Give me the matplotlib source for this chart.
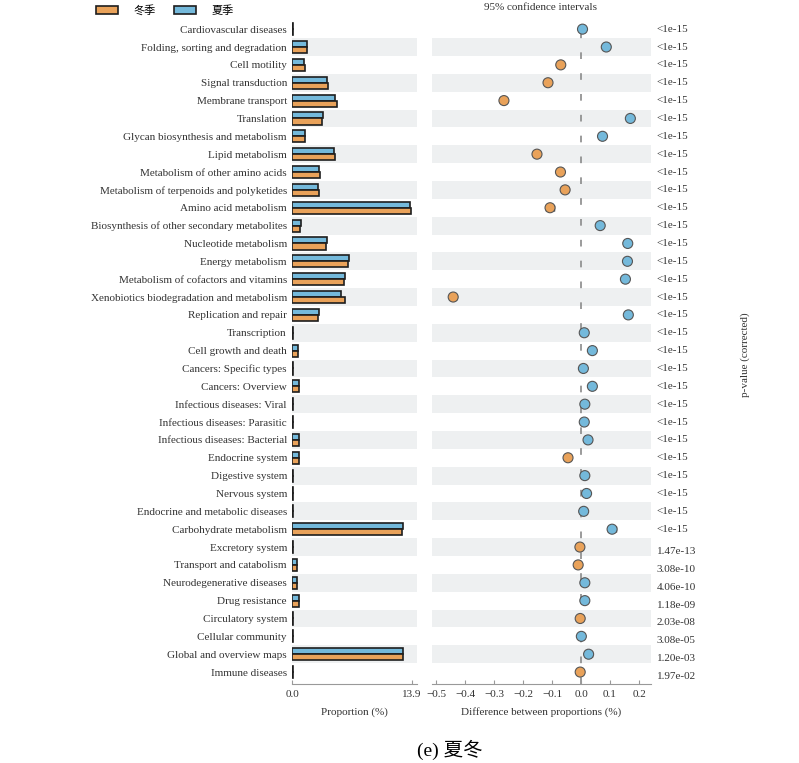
import matplotlib
matplotlib.use("Agg")
import matplotlib.pyplot as plt
from matplotlib.patches import Patch
import matplotlib.transforms as mtransforms
import numpy as np

plt.rcParams['font.family'] = ['Liberation Serif', 'Noto Sans CJK SC', 'DejaVu Sans']

categories = [
    'Cardiovascular diseases', 'Folding, sorting and degradation', 'Cell motility',
    'Signal transduction', 'Membrane transport', 'Translation',
    'Glycan biosynthesis and metabolism', 'Lipid metabolism',
    'Metabolism of other amino acids', 'Metabolism of terpenoids and polyketides',
    'Amino acid metabolism', 'Biosynthesis of other secondary metabolites',
    'Nucleotide metabolism', 'Energy metabolism', 'Metabolism of cofactors and vitamins',
    'Xenobiotics biodegradation and metabolism', 'Replication and repair',
    'Transcription', 'Cell growth and death', 'Cancers: Specific types',
    'Cancers: Overview', 'Infectious diseases: Viral', 'Infectious diseases: Parasitic',
    'Infectious diseases: Bacterial', 'Endocrine system', 'Digestive system',
    'Nervous system', 'Endocrine and metabolic diseases', 'Carbohydrate metabolism',
    'Excretory system', 'Transport and catabolism', 'Neurodegenerative diseases',
    'Drug resistance', 'Circulatory system', 'Cellular community',
    'Global and overview maps', 'Immune diseases',
]

# 夏季 (summer) and 冬季 (winter) proportions, %
summer = [0.05, 1.71, 1.36, 4.00, 4.93, 3.61, 1.47, 4.81, 3.14, 3.03,
          13.74, 0.97, 4.07, 6.56, 6.17, 5.70, 3.14, 0.10, 0.70, 0.10,
          0.81, 0.10, 0.06, 0.81, 0.81, 0.10, 0.12, 0.10, 12.84, 0.10,
          0.58, 0.50, 0.74, 0.08, 0.03, 12.84, 0.10]
winter = [0.05, 1.67, 1.44, 4.11, 5.16, 3.41, 1.47, 5.00, 3.18, 3.07,
          13.85, 0.89, 3.88, 6.44, 6.05, 6.17, 3.03, 0.10, 0.66, 0.10,
          0.81, 0.10, 0.05, 0.81, 0.81, 0.10, 0.12, 0.10, 12.73, 0.10,
          0.58, 0.50, 0.74, 0.08, 0.03, 12.84, 0.10]

# difference between proportions and 95% CI half widths
diff = [0.005, 0.087, -0.070, -0.114, -0.266, 0.170, 0.074, -0.152, -0.071, -0.055,
        -0.107, 0.066, 0.161, 0.160, 0.153, -0.441, 0.163, 0.011, 0.039, 0.008,
        0.039, 0.013, 0.011, 0.024, -0.045, 0.013, 0.019, 0.009, 0.107, -0.004,
        -0.010, 0.013, 0.013, -0.003, 0.001, 0.026, -0.003]
ci = [0.003, 0.004, 0.004, 0.005, 0.006, 0.005, 0.004, 0.006, 0.004, 0.004,
      0.013, 0.004, 0.005, 0.007, 0.006, 0.008, 0.005, 0.002, 0.003, 0.002,
      0.003, 0.002, 0.002, 0.003, 0.003, 0.002, 0.002, 0.002, 0.013, 0.002,
      0.003, 0.003, 0.003, 0.002, 0.002, 0.013, 0.002]

pvals = ['<1e-15'] * 29 + ['1.47e-13', '3.08e-10', '4.06e-10', '1.18e-09',
                           '2.03e-08', '3.08e-05', '1.20e-03', '1.97e-02']

orange = '#E9A25A'
blue = '#74B9DB'
band = '#EEF0F1'
txt = '#333333'

fig = plt.figure(figsize=(7.99, 7.63), dpi=100)
ax1 = fig.add_axes([0.366, 0.1035, 0.156, 0.870])
ax2 = fig.add_axes([0.5407, 0.1035, 0.274, 0.870])

y = np.arange(len(categories))
h = 0.34

for ax in (ax1, ax2):
    for i in y[1::2]:
        ax.axhspan(i - 0.5, i + 0.5, color=band, lw=0, zorder=0)
    ax.set_ylim(36.67, -0.5)
    for s in ['top', 'right', 'left']:
        ax.spines[s].set_visible(False)
    ax.spines['bottom'].set_color('#999999')
    ax.tick_params(axis='x', direction='in', length=3, color='#999999',
                   labelsize=8, labelcolor=txt, pad=4)

# proportions
ax1.barh(y - h / 2, summer, height=h, color=blue, edgecolor='#1e1e1e', lw=1.2, zorder=2)
ax1.barh(y + h / 2, winter, height=h, color=orange, edgecolor='#1e1e1e', lw=1.2, zorder=2)
ax1.set_xlim(0, 14.52)
ax1.set_xticks([0, 13.9])
ax1.set_xticklabels(['0.0', '13.9'])
ax1.set_yticks(y)
ax1.set_yticklabels(categories, fontsize=8, color=txt)
ax1.tick_params(axis='y', length=0, pad=4)
ax1.set_xlabel('Proportion (%)', fontsize=8, color=txt, labelpad=6)

# differences
cols = [blue if d > 0 else orange for d in diff]
ax2.axvline(0, color='#8a8a8a', lw=1.2, ls=(0, (4, 8.5)), zorder=1)
ax2.errorbar(diff, y, xerr=ci, fmt='none', ecolor='#222222', elinewidth=1,
             capsize=2, zorder=2)
ax2.scatter(diff, y, s=52, c=cols, edgecolors='#555555', linewidths=0.8, zorder=3)
ax2.set_xlim(-0.514, 0.241)
ticks = [-0.5, -0.4, -0.3, -0.2, -0.1, 0.0, 0.1, 0.2]
ax2.set_xticks(ticks)
ax2.set_xticklabels([f'{t:.1f}'.replace('-', '\u2212') for t in ticks])
ax2.set_yticks([])
ax2.set_xlabel('Difference between proportions (%)', fontsize=8, color=txt, labelpad=6)

trans = mtransforms.blended_transform_factory(ax2.transAxes, ax2.transData)
for i, p in enumerate(pvals):
    off = 0.25 if not p.startswith('<') else 0.0
    ax2.text(1.027, i + off, p, transform=trans, fontsize=8, color=txt,
             ha='left', va='center')

fig.text(745 / 799, 1 - 355 / 763, 'p-value (corrected)', rotation=90, fontsize=8,
         color=txt, ha='center', va='center')
fig.text(540 / 799, 1 - 7 / 763, '95% confidence intervals', fontsize=8, color=txt,
         ha='center', va='center')

handles = [Patch(facecolor=orange, edgecolor='#1e1e1e', lw=1.2, label='冬季'),
           Patch(facecolor=blue, edgecolor='#1e1e1e', lw=1.2, label='夏季')]
fig.legend(handles=handles, loc='upper left', bbox_to_anchor=(96 / 799, 1 - 5 / 763),
           ncol=2, frameon=False, fontsize=8, handlelength=2.0, handleheight=0.7,
           borderpad=0, borderaxespad=0, columnspacing=1.6, handletextpad=1.4)

fig.text(450 / 799, 1 - 750 / 763, '(e) 夏冬', fontsize=14, color='black',
         ha='center', va='center')

fig.savefig('out.png', dpi=100)
